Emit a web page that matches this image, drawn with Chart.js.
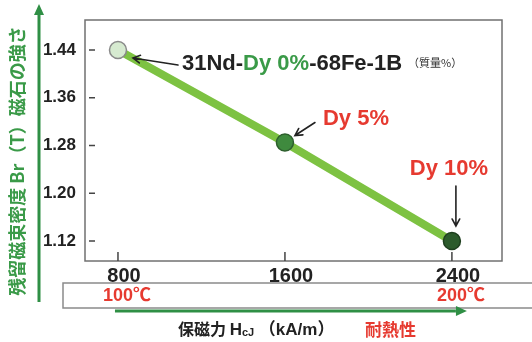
<!DOCTYPE html>
<html lang="ja">
<head>
<meta charset="UTF-8">
<title>保磁力と残留磁束密度</title>
<script src="https://cdn.jsdelivr.net/npm/chart.js"></script>
<style>
  html, body { margin: 0; padding: 0; background: #fff; }
</style>
</head>
<body>
<canvas id="chart" width="532" height="342"></canvas>
<script>
// data
const coercivity = [800, 1600, 2400];        // HcJ (kA/m)
const remanence = [1.44, 1.285, 1.12];       // Br (T)
const xTicks = [800, 1600, 2400];
const yTicks = [1.12, 1.20, 1.28, 1.36, 1.44];
const tempLabels = ['100℃', '', '200℃'];
const pointLabels = ['Dy 0%', 'Dy 5%', 'Dy 10%'];

const FONT = "'Liberation Sans', 'Noto Sans CJK JP', sans-serif";
const JP = "'Noto Sans CJK JP', 'Liberation Sans', sans-serif";
const RED = '#e63a30';
const GREEN = '#3a9a48';
const ARROW_GREEN = '#2f8f45';

function arrowLine(ctx, x1, y1, x2, y2, color, width) {
  // open "V" head at x2,y2
  const a = Math.atan2(y2 - y1, x2 - x1);
  ctx.save();
  ctx.strokeStyle = color;
  ctx.lineWidth = width;
  ctx.lineCap = 'round';
  ctx.beginPath();
  ctx.moveTo(x1, y1);
  ctx.lineTo(x2, y2);
  ctx.moveTo(x2 - 8 * Math.cos(a - 0.5), y2 - 8 * Math.sin(a - 0.5));
  ctx.lineTo(x2, y2);
  ctx.lineTo(x2 - 8 * Math.cos(a + 0.5), y2 - 8 * Math.sin(a + 0.5));
  ctx.stroke();
  ctx.restore();
}

function solidArrow(ctx, x1, y1, x2, y2, color, width) {
  const a = Math.atan2(y2 - y1, x2 - x1);
  const len = 11, half = 5;
  const bx = x2 - len * Math.cos(a), by = y2 - len * Math.sin(a);
  ctx.save();
  ctx.strokeStyle = color;
  ctx.fillStyle = color;
  ctx.lineWidth = width;
  ctx.beginPath();
  ctx.moveTo(x1, y1);
  ctx.lineTo(bx, by);
  ctx.stroke();
  ctx.beginPath();
  ctx.moveTo(x2, y2);
  ctx.lineTo(bx + half * Math.sin(a), by - half * Math.cos(a));
  ctx.lineTo(bx - half * Math.sin(a), by + half * Math.cos(a));
  ctx.closePath();
  ctx.fill();
  ctx.restore();
}

function drawRuns(ctx, x, y, runs) {
  runs.forEach(r => {
    ctx.font = r.font;
    ctx.fillStyle = r.color;
    ctx.fillText(r.text, x, y + (r.dy || 0));
    x += ctx.measureText(r.text).width;
  });
  return x;
}

const decor = {
  id: 'decor',
  beforeDatasetsDraw(chart) {
    const { ctx, chartArea: a, scales: { x, y } } = chart;
    ctx.save();
    ctx.strokeStyle = '#707070';
    ctx.lineWidth = 1.5;
    ctx.strokeRect(a.left, a.top, a.right - a.left, a.bottom - a.top);
    // inside tick marks
    ctx.strokeStyle = '#444';
    ctx.lineWidth = 1.5;
    ctx.beginPath();
    yTicks.forEach(v => {
      const py = y.getPixelForValue(v);
      ctx.moveTo(a.left + 4, py);
      ctx.lineTo(a.left + 10, py);
    });
    xTicks.forEach(v => {
      const px = x.getPixelForValue(v);
      ctx.moveTo(px, a.bottom);
      ctx.lineTo(px, a.bottom - 9);
    });
    ctx.stroke();
    ctx.restore();
  },
  afterDraw(chart) {
    const { ctx, scales: { x, y } } = chart;
    const p = i => ({ x: x.getPixelForValue(coercivity[i]), y: y.getPixelForValue(remanence[i]) });
    ctx.save();
    ctx.textBaseline = 'alphabetic';
    ctx.textAlign = 'left';

    // point labels
    const p0 = p(0), p1 = p(1), p2 = p(2);
    arrowLine(ctx, p0.x + 60, p0.y + 15, p0.x + 15, p0.y + 8, '#222', 1.6);
    const big = 'bold 22px ' + FONT;
    let end = drawRuns(ctx, p0.x + 64, p0.y + 20, [
      { text: '31Nd-', font: big, color: '#222' },
      { text: pointLabels[0], font: big, color: GREEN },
      { text: '-68Fe-1B', font: big, color: '#222' }
    ]);
    ctx.font = '11px ' + JP;
    ctx.fillStyle = '#333';
    ctx.fillText('（質量%）', end + 6, p0.y + 17);

    arrowLine(ctx, p1.x + 30, p1.y - 20, p1.x + 10, p1.y - 7, '#222', 1.6);
    ctx.font = big;
    ctx.fillStyle = RED;
    ctx.fillText(pointLabels[1], p1.x + 38, p1.y - 18);

    ctx.textAlign = 'center';
    ctx.fillText(pointLabels[2], p2.x - 3, p2.y - 66);
    arrowLine(ctx, p2.x + 4, p2.y - 55, p2.x + 4, p2.y - 15, '#222', 1.6);

    // temperature box
    ctx.strokeStyle = '#8a8a8a';
    ctx.lineWidth = 1.5;
    ctx.strokeRect(63, 283, 500, 25);
    ctx.font = 'bold 18px ' + FONT;
    ctx.fillStyle = RED;
    tempLabels.forEach((t, i) => {
      if (t) ctx.fillText(t, x.getPixelForValue(xTicks[i]) + 9, 301);
    });
    solidArrow(ctx, x.getPixelForValue(800) - 3, 311, x.getPixelForValue(2400) + 15, 311, ARROW_GREEN, 3);

    // x title
    ctx.textAlign = 'left';
    const t = 'bold 17px ' + FONT;
    const tj = 'bold 16px ' + JP;
    end = drawRuns(ctx, 178, 335, [
      { text: '保磁力 ', font: tj, color: '#222' },
      { text: 'H', font: t, color: '#222' },
      { text: 'cJ', font: 'bold 11px ' + FONT, color: '#222', dy: 1 },
      { text: ' （kA/m）', font: t, color: '#222' }
    ]);
    ctx.font = 'bold 17px ' + JP;
    ctx.fillStyle = RED;
    ctx.fillText('耐熱性', 365, 336);

    // y title and arrow
    solidArrow(ctx, 39, 302, 39, 4, ARROW_GREEN, 3);
    ctx.save();
    ctx.translate(17, 161);
    ctx.rotate(-Math.PI / 2);
    ctx.textAlign = 'center';
    ctx.textBaseline = 'middle';
    ctx.font = 'bold 18px ' + JP;
    ctx.fillStyle = GREEN;
    ctx.fillText('残留磁束密度 Br（T）磁石の強さ', 0, 0);
    ctx.restore();

    ctx.restore();
  }
};

new Chart(document.getElementById('chart'), {
  type: 'line',
  data: {
    datasets: [{
      data: coercivity.map((v, i) => ({ x: v, y: remanence[i] })),
      borderColor: '#7dc242',
      borderWidth: 8,
      pointRadius: 8.5,
      pointBackgroundColor: ['#d6ead0', '#3f8a3e', '#2c5b2c'],
      pointBorderColor: ['#8a8a8a', '#2d5f2d', '#1f3f1f'],
      pointBorderWidth: 1.5,
      clip: false
    }]
  },
  plugins: [decor],
  options: {
    responsive: false,
    animation: false,
    devicePixelRatio: 1,
    layout: { padding: { left: 0, top: 20, right: 30, bottom: 0 } },
    plugins: { legend: { display: false }, tooltip: { enabled: false } },
    scales: {
      x: {
        type: 'linear',
        min: 642,
        max: 2640,
        afterBuildTicks: s => { s.ticks = xTicks.map(v => ({ value: v })); },
        afterFit: s => { s.height = 81; },
        grid: { display: false, drawTicks: false },
        border: { display: false },
        ticks: {
          color: '#222',
          font: { family: FONT, size: 20, weight: 'bold' },
          padding: 3,
          labelOffset: 6,
          maxRotation: 0,
          callback: v => String(v)
        }
      },
      y: {
        min: 1.0865,
        max: 1.4903,
        afterBuildTicks: s => { s.ticks = yTicks.map(v => ({ value: v })); },
        afterFit: s => { s.width = 85; },
        grid: { display: false, drawTicks: false },
        border: { display: false },
        ticks: {
          color: '#222',
          font: { family: FONT, size: 17, weight: 'bold' },
          padding: 9,
          callback: v => v.toFixed(2)
        }
      }
    }
  }
});
</script>
</body>
</html>
